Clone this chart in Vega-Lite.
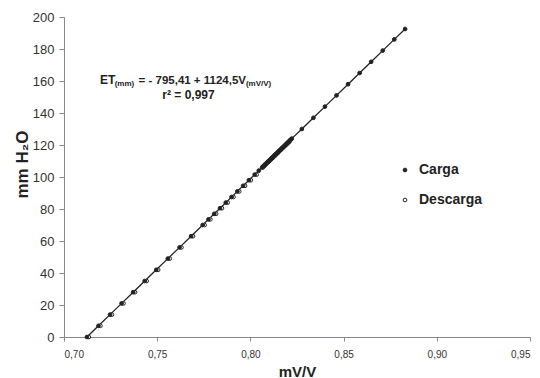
{
  "$schema": "https://vega.github.io/schema/vega-lite/v6.json",
  "width": 466,
  "height": 320,
  "autosize": "none",
  "padding": {"left": 64, "top": 17, "right": 10, "bottom": 41},
  "background": "white",
  "config": {
    "view": {"stroke": null},
    "font": "Liberation Sans",
    "axis": {"grid": false, "domainColor": "#888", "tickColor": "#888", "labelColor": "#333", "labelFont": "Liberation Sans", "titleFont": "Liberation Sans", "titleColor": "#222", "labelOverlap": false}
  },
  "data": {"values": [
    {"series": "Carga", "v": 0.7123, "mm": 0},
    {"series": "Carga", "v": 0.7185, "mm": 7},
    {"series": "Carga", "v": 0.7247, "mm": 14},
    {"series": "Carga", "v": 0.7309, "mm": 21},
    {"series": "Carga", "v": 0.7371, "mm": 28},
    {"series": "Carga", "v": 0.7433, "mm": 35},
    {"series": "Carga", "v": 0.7495, "mm": 42},
    {"series": "Carga", "v": 0.7557, "mm": 49},
    {"series": "Carga", "v": 0.7620, "mm": 56},
    {"series": "Carga", "v": 0.7682, "mm": 63},
    {"series": "Carga", "v": 0.7744, "mm": 70},
    {"series": "Carga", "v": 0.7775, "mm": 73.5},
    {"series": "Carga", "v": 0.7806, "mm": 77},
    {"series": "Carga", "v": 0.7837, "mm": 80.5},
    {"series": "Carga", "v": 0.7868, "mm": 84},
    {"series": "Carga", "v": 0.7899, "mm": 87.5},
    {"series": "Carga", "v": 0.7930, "mm": 91},
    {"series": "Carga", "v": 0.7961, "mm": 94.5},
    {"series": "Carga", "v": 0.7992, "mm": 98},
    {"series": "Carga", "v": 0.8023, "mm": 101.5},
    {"series": "Carga", "v": 0.8045, "mm": 104},
    {"series": "Carga", "v": 0.8063, "mm": 106},
    {"series": "Carga", "v": 0.8067, "mm": 106.5},
    {"series": "Carga", "v": 0.8072, "mm": 107},
    {"series": "Carga", "v": 0.8076, "mm": 107.5},
    {"series": "Carga", "v": 0.8080, "mm": 108},
    {"series": "Carga", "v": 0.8085, "mm": 108.5},
    {"series": "Carga", "v": 0.8089, "mm": 109},
    {"series": "Carga", "v": 0.8094, "mm": 109.5},
    {"series": "Carga", "v": 0.8098, "mm": 110},
    {"series": "Carga", "v": 0.8103, "mm": 110.5},
    {"series": "Carga", "v": 0.8107, "mm": 111},
    {"series": "Carga", "v": 0.8112, "mm": 111.5},
    {"series": "Carga", "v": 0.8116, "mm": 112},
    {"series": "Carga", "v": 0.8120, "mm": 112.5},
    {"series": "Carga", "v": 0.8125, "mm": 113},
    {"series": "Carga", "v": 0.8129, "mm": 113.5},
    {"series": "Carga", "v": 0.8134, "mm": 114},
    {"series": "Carga", "v": 0.8138, "mm": 114.5},
    {"series": "Carga", "v": 0.8143, "mm": 115},
    {"series": "Carga", "v": 0.8147, "mm": 115.5},
    {"series": "Carga", "v": 0.8151, "mm": 116},
    {"series": "Carga", "v": 0.8156, "mm": 116.5},
    {"series": "Carga", "v": 0.8160, "mm": 117},
    {"series": "Carga", "v": 0.8165, "mm": 117.5},
    {"series": "Carga", "v": 0.8169, "mm": 118},
    {"series": "Carga", "v": 0.8174, "mm": 118.5},
    {"series": "Carga", "v": 0.8178, "mm": 119},
    {"series": "Carga", "v": 0.8183, "mm": 119.5},
    {"series": "Carga", "v": 0.8187, "mm": 120},
    {"series": "Carga", "v": 0.8191, "mm": 120.5},
    {"series": "Carga", "v": 0.8196, "mm": 121},
    {"series": "Carga", "v": 0.8200, "mm": 121.5},
    {"series": "Carga", "v": 0.8205, "mm": 122},
    {"series": "Carga", "v": 0.8209, "mm": 122.5},
    {"series": "Carga", "v": 0.8213, "mm": 123},
    {"series": "Carga", "v": 0.8218, "mm": 123.5},
    {"series": "Carga", "v": 0.8222, "mm": 124},
    {"series": "Carga", "v": 0.8276, "mm": 130},
    {"series": "Carga", "v": 0.8338, "mm": 137},
    {"series": "Carga", "v": 0.8400, "mm": 144},
    {"series": "Carga", "v": 0.8462, "mm": 151},
    {"series": "Carga", "v": 0.8524, "mm": 158},
    {"series": "Carga", "v": 0.8586, "mm": 165},
    {"series": "Carga", "v": 0.8648, "mm": 172},
    {"series": "Carga", "v": 0.8710, "mm": 179},
    {"series": "Carga", "v": 0.8772, "mm": 186},
    {"series": "Carga", "v": 0.8830, "mm": 192.5},
    {"series": "Descarga", "v": 0.7133, "mm": 0},
    {"series": "Descarga", "v": 0.7195, "mm": 7},
    {"series": "Descarga", "v": 0.7257, "mm": 14},
    {"series": "Descarga", "v": 0.7319, "mm": 21},
    {"series": "Descarga", "v": 0.7381, "mm": 28},
    {"series": "Descarga", "v": 0.7443, "mm": 35},
    {"series": "Descarga", "v": 0.7505, "mm": 42},
    {"series": "Descarga", "v": 0.7567, "mm": 49},
    {"series": "Descarga", "v": 0.7630, "mm": 56},
    {"series": "Descarga", "v": 0.7692, "mm": 63},
    {"series": "Descarga", "v": 0.7754, "mm": 70},
    {"series": "Descarga", "v": 0.7785, "mm": 73.5},
    {"series": "Descarga", "v": 0.7816, "mm": 77},
    {"series": "Descarga", "v": 0.7847, "mm": 80.5},
    {"series": "Descarga", "v": 0.7878, "mm": 84},
    {"series": "Descarga", "v": 0.7909, "mm": 87.5},
    {"series": "Descarga", "v": 0.7940, "mm": 91},
    {"series": "Descarga", "v": 0.7971, "mm": 94.5},
    {"series": "Descarga", "v": 0.8002, "mm": 98},
    {"series": "Descarga", "v": 0.8033, "mm": 101.5},
    {"series": "Descarga", "v": 0.8067, "mm": 106},
    {"series": "Descarga", "v": 0.8076, "mm": 107},
    {"series": "Descarga", "v": 0.8084, "mm": 108},
    {"series": "Descarga", "v": 0.8093, "mm": 109},
    {"series": "Descarga", "v": 0.8102, "mm": 110},
    {"series": "Descarga", "v": 0.8111, "mm": 111},
    {"series": "Descarga", "v": 0.8120, "mm": 112},
    {"series": "Descarga", "v": 0.8129, "mm": 113},
    {"series": "Descarga", "v": 0.8138, "mm": 114},
    {"series": "Descarga", "v": 0.8147, "mm": 115},
    {"series": "Descarga", "v": 0.8155, "mm": 116},
    {"series": "Descarga", "v": 0.8164, "mm": 117},
    {"series": "Descarga", "v": 0.8173, "mm": 118},
    {"series": "Descarga", "v": 0.8182, "mm": 119},
    {"series": "Descarga", "v": 0.8191, "mm": 120},
    {"series": "Descarga", "v": 0.8200, "mm": 121},
    {"series": "Descarga", "v": 0.8209, "mm": 122}
  ]},
  "encoding": {
    "x": {"field": "v", "type": "quantitative", "scale": {"domain": [0.7, 0.95], "nice": false, "zero": false},
      "axis": {"values": [0.7, 0.75, 0.8, 0.85, 0.9, 0.95], "labelExpr": "replace(format(datum.value, '.2f'), '.', ',')", "labelFontSize": 10, "labelPadding": 8, "tickSize": 4, "labelOverlap": false, "title": "mV/V", "titleFontSize": 15, "titleFontWeight": "bold", "titleX": 233, "titleY": 39, "titleBaseline": "alphabetic"}},
    "y": {"field": "mm", "type": "quantitative", "scale": {"domain": [0, 200], "nice": false},
      "axis": {"values": [0, 20, 40, 60, 80, 100, 120, 140, 160, 180, 200], "labelFontSize": 13, "labelPadding": 5, "tickSize": 5, "labelOverlap": false, "title": "mm H₂O", "titleFontSize": 17, "titleFontWeight": "bold", "titleX": -42, "titleY": 147, "titleBaseline": "middle", "titleAlign": "center"}}
  },
  "layer": [
    {
      "transform": [{"filter": "datum.series == 'Carga'"}],
      "mark": {"type": "line", "color": "#222", "strokeWidth": 1.3},
      "encoding": {"order": {"field": "v", "type": "quantitative"}}
    },
    {
      "mark": {"type": "point", "stroke": "#222", "strokeWidth": 1, "size": 14, "opacity": 1},
      "encoding": {
        "order": {"field": "series", "sort": "descending"},
        "fill": {"field": "series", "type": "nominal", "scale": {"domain": ["Carga", "Descarga"], "range": ["#222", "white"]},
          "legend": {"title": null, "orient": "none", "legendX": 334, "legendY": 146, "symbolType": "circle", "symbolSize": 14, "symbolStrokeColor": "#222", "symbolStrokeWidth": 1, "labelFontSize": 14, "labelFontWeight": "bold", "labelColor": "#222", "labelFont": "Liberation Sans", "labelOffset": 7, "rowPadding": 16}}
      }
    },
    {
      "data": {"values": [{"v": 0.7193, "mm": 158.1}]},
      "mark": {"type": "text", "align": "left", "baseline": "alphabetic", "fontSize": 12, "fontWeight": "bold", "color": "#222", "text": "ET"}
    },
    {
      "data": {"values": [{"v": 0.7272, "mm": 156.9}]},
      "mark": {"type": "text", "align": "left", "baseline": "alphabetic", "fontSize": 8, "fontWeight": "bold", "color": "#222", "text": "(mm)"}
    },
    {
      "data": {"values": [{"v": 0.7400, "mm": 158.1}]},
      "mark": {"type": "text", "align": "left", "baseline": "alphabetic", "fontSize": 11.5, "fontWeight": "bold", "color": "#222", "text": "= - 795,41 + 1124,5V"}
    },
    {
      "data": {"values": [{"v": 0.7976, "mm": 156.9}]},
      "mark": {"type": "text", "align": "left", "baseline": "alphabetic", "fontSize": 8, "fontWeight": "bold", "color": "#222", "text": "(mV/V)"}
    },
    {
      "data": {"values": [{"v": 0.7668, "mm": 148.8}]},
      "mark": {"type": "text", "align": "center", "baseline": "alphabetic", "fontSize": 12, "fontWeight": "bold", "color": "#222", "text": "r² = 0,997"}
    }
  ]
}
